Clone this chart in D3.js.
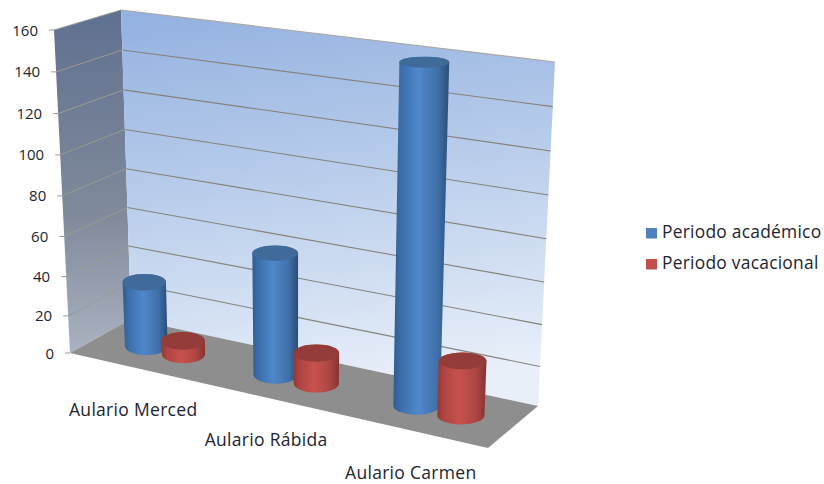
<!DOCTYPE html>
<html><head><meta charset="utf-8">
<script src="https://cdn.jsdelivr.net/npm/d3@7"></script>
<style>html,body{margin:0;padding:0;background:#fff}svg{display:block}text{font-family:"Open Sans",sans-serif;fill:#1c2430}</style>
</head><body><div id="c"></div>
<script>
const categories = ["Aulario Merced", "Aulario Rábida", "Aulario Carmen"];
const seriesNames = ["Periodo académico", "Periodo vacacional"];
const academico = [34, 61, 160];
const vacacional = [7.5, 16, 27];
const tickValues = [0, 20, 40, 60, 80, 100, 120, 140, 160];

const W = 824, H = 484;
const svg = d3.select("#c").append("svg").attr("width", W).attr("height", H);
const defs = svg.append("defs");

// Perspective frame of the 3D plot box
const floorFL = [70,353], floorFR = [488,448], floorBL = [131,319], floorBR = [538,406];
const topFL = [54,30], topFR = [499,88], topBL = [121,10], topBR = [555,62];
const lerp = (a,b,t) => [a[0]+(b[0]-a[0])*t, a[1]+(b[1]-a[1])*t];
const height = d3.scalePow().exponent(1.04).domain([0,160]).range([0,1]);
// t: along the categories, d: depth (0 front, 1 back), v: value
function project(t,d,v){
  const base = lerp(lerp(floorFL,floorFR,t), lerp(floorBL,floorBR,t), d);
  const top  = lerp(lerp(topFL,topFR,t), lerp(topBL,topBR,t), d);
  return lerp(base, top, height(v));
}
const catPos = d3.scaleOrdinal().domain(categories).range([0.156,0.474,0.82]);
const halfGap = d3.scaleLinear().domain([0,1]).range([0.043,0.056]);
const serSign = d3.scaleOrdinal().domain(seriesNames).range([-1,1]);
const line = d3.line();

function grad(id,x1,y1,x2,y2,stops){
  const g = defs.append("linearGradient").attr("id",id)
    .attr("x1",x1).attr("y1",y1).attr("x2",x2).attr("y2",y2);
  stops.forEach(([o,c])=>g.append("stop").attr("offset",o).attr("stop-color",c));
}
grad("back",0.1,0,0.25,1,[[0,"#93b1e0"],[0.5,"#bccfec"],[1,"#e8eff9"]]);
grad("side",0,0,0,1,[[0,"#5f7090"],[0.6,"#808a9b"],[1,"#aab2c0"]]);
const bodyStops = {
  [seriesNames[0]]:[[0,"#2f5c90"],[0.12,"#3a6da8"],[0.45,"#5088cc"],[0.8,"#3f6fa8"],[1,"#294d78"]],
  [seriesNames[1]]:[[0,"#8f3835"],[0.12,"#ac4441"],[0.45,"#c8524e"],[0.8,"#ac4542"],[1,"#853330"]]
};
const capColor = {[seriesNames[0]]:"#3f6a9a",[seriesNames[1]]:"#933c39"};
const swatch = {[seriesNames[0]]:"#4f81bd",[seriesNames[1]]:"#c0504d"};
seriesNames.forEach((s,i)=>grad("body"+i,0,0,1,0,bodyStops[s]));

const plot = svg.append("g");
// walls
plot.append("path").attr("d",line([topFL,topBL,floorBL,floorFL])+"Z").attr("fill","url(#side)");
plot.append("path").attr("d",line([topBL,topBR,floorBR,floorBL])+"Z").attr("fill","url(#back)");
// gridlines
tickValues.filter(v=>v>0).forEach(v=>{
  plot.append("path").attr("d",line([project(0,1,v),project(1,1,v)])).attr("fill","none")
    .attr("stroke",v===160?"#a9a9a6":"#85827d").attr("stroke-width",1.1);
  plot.append("path").attr("d",line([project(0,0,v),project(0,1,v)])).attr("fill","none")
    .attr("stroke",v===160?"#9a9a9a":"#9b9a90").attr("stroke-width",1);
});
// floor
plot.append("path").attr("d",line([floorFL,floorFR,floorBR,floorBL])+"Z").attr("fill","#8e8e8e");
// axis ticks and labels
tickValues.forEach(v=>{
  const p = project(0,0,v);
  plot.append("path").attr("d",line([[p[0]-5,p[1]],p])).attr("stroke","#999").attr("fill","none");
  plot.append("text").attr("x",p[0]-16).attr("y",p[1]+5.5).attr("text-anchor","end")
    .attr("font-size",15).text(v);
});
// cylinders
const radius = d3.scaleLinear().domain([0,1]).range([21,24]);
const capRy = d3.scaleLinear().domain([0,160]).range([9,5.5]);
const baseRy = 9;
categories.forEach((cat,ci)=>{
  [academico,vacacional].forEach((vals,si)=>{
    const name = seriesNames[si], v = vals[ci];
    const center = catPos(cat);
    const t = center + serSign(name)*halfGap(center), d = 0.5;
    const b = project(t,d,0), c = project(t,d,v);
    const rb = radius(t), rt = rb*(1+0.07*v/160), ry = capRy(v);
    const cyl = `M${c[0]-rt},${c[1]}L${b[0]-rb},${b[1]}A${rb},${baseRy} 0 0 0 ${b[0]+rb},${b[1]}L${c[0]+rt},${c[1]}A${rt},${ry} 0 0 0 ${c[0]-rt},${c[1]}Z`;
    plot.append("path").attr("d",cyl).attr("fill",`url(#body${si})`);
    plot.append("ellipse").attr("cx",c[0]).attr("cy",c[1]).attr("rx",rt).attr("ry",ry).attr("fill",capColor[name]);
  });
  const f = project(catPos(cat),0,0);
  plot.append("text").attr("x",f[0]-2).attr("y",f[1]+48).attr("text-anchor","middle")
    .attr("font-size",17.5).attr("letter-spacing",0.3).text(cat);
});
// legend
const legendY = d3.scalePoint().domain(seriesNames).range([238,269]);
seriesNames.forEach(s=>{
  const y = legendY(s);
  svg.append("rect").attr("x",646).attr("y",y-10).attr("width",11).attr("height",10.5).attr("fill",swatch[s]);
  svg.append("text").attr("x",662).attr("y",y).attr("font-size",17.4).attr("letter-spacing",0.25).text(s);
});
</script></body></html>
